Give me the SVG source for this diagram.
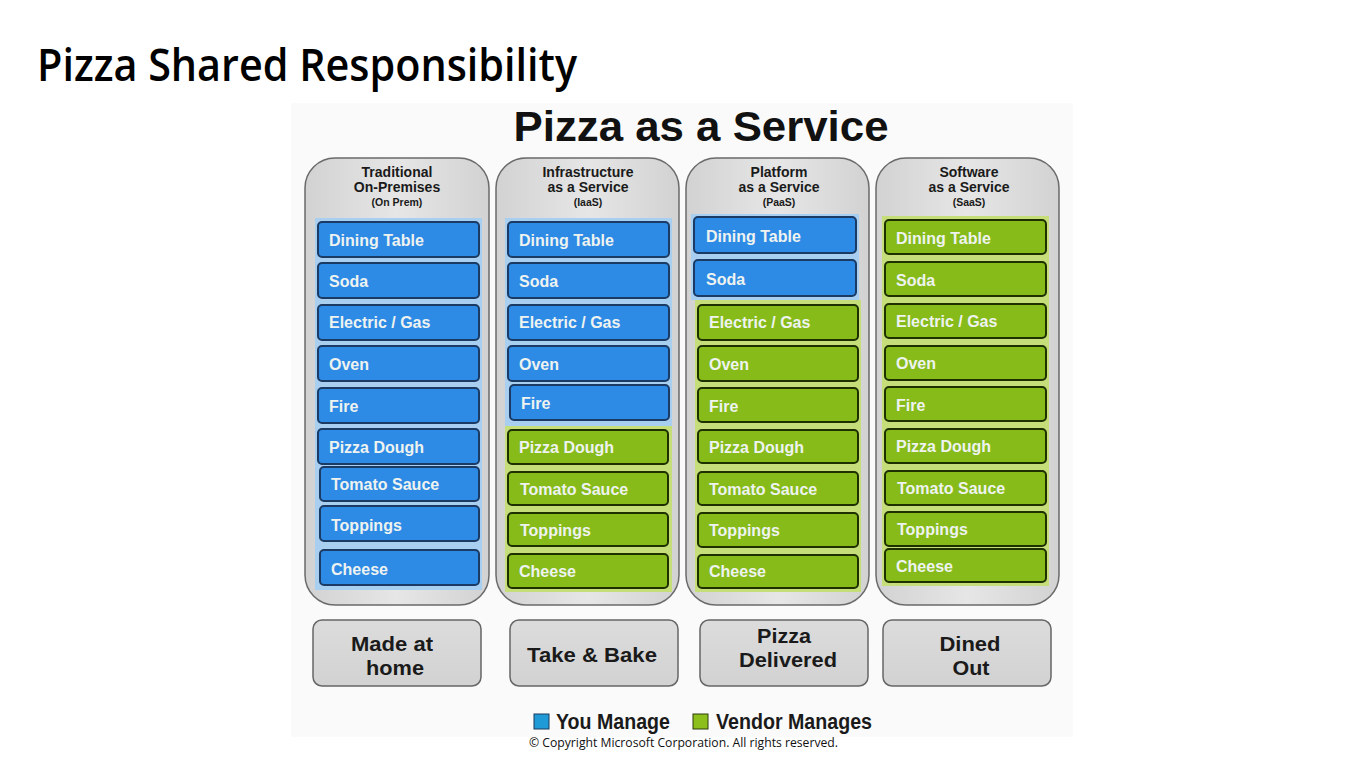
<svg xmlns="http://www.w3.org/2000/svg" width="1366" height="768" viewBox="0 0 1366 768">
<defs>
<linearGradient id="colg" x1="0" y1="0" x2="1" y2="0">
<stop offset="0" stop-color="#d2d2d2"/><stop offset="0.5" stop-color="#e6e6e6"/><stop offset="1" stop-color="#d2d2d2"/>
</linearGradient>
<linearGradient id="btng" x1="0" y1="0" x2="0" y2="1">
<stop offset="0" stop-color="#dcdcdc"/><stop offset="1" stop-color="#d2d2d2"/>
</linearGradient>
<style>
.col{fill:url(#colg);stroke:#6a6a6a;stroke-width:1.5}
.hd{font-family:"Liberation Sans",Arial,sans-serif;font-weight:bold;font-size:14px;fill:#1a1a1a;text-anchor:middle}
.hs{font-family:"Liberation Sans",Arial,sans-serif;font-weight:bold;font-size:10.5px;fill:#1a1a1a;text-anchor:middle}
.bs{fill:#a9cff0}
.gs{fill:#c6de7a}
.b{fill:#2d8ae5;stroke:#1b3b64;stroke-width:2}
.g{fill:#86bb19;stroke:#1f3000;stroke-width:2}
.it{font-family:"Liberation Sans",Arial,sans-serif;font-weight:bold;font-size:16px;fill:#eef3f0}
.btn{fill:url(#btng);stroke:#666;stroke-width:1.5}
.bt{font-family:"Liberation Sans Narrow","Liberation Sans",Arial,sans-serif;font-weight:bold;font-size:21px;fill:#1a1a1a;text-anchor:middle}
.lg{font-family:"Liberation Sans Narrow","Liberation Sans",Arial,sans-serif;font-weight:bold;font-size:22px;fill:#1a1a1a}
</style>
</defs>
<rect x="0" y="0" width="1366" height="768" fill="#ffffff"/>
<text x="37" y="81" font-family="'Open Sans','Noto Sans',sans-serif" font-weight="600" font-size="46" fill="#000" textLength="540" lengthAdjust="spacingAndGlyphs">Pizza Shared Responsibility</text>
<rect x="291" y="103" width="782" height="634" fill="#fafafa"/>
<text x="701" y="141" font-family="'Liberation Sans',Arial,sans-serif" font-weight="bold" font-size="42" fill="#111" text-anchor="middle" textLength="375" lengthAdjust="spacingAndGlyphs">Pizza as a Service</text>

<g id="col-onprem">
<rect class="col" x="305" y="158" width="184" height="447" rx="30"/>
<text class="hd" x="397" y="177">Traditional</text>
<text class="hd" x="397" y="192">On-Premises</text>
<text class="hs" x="397" y="206">(On Prem)</text>
<rect class="bs" x="315" y="218" width="167" height="372"/>
<rect class="b" x="318" y="222" width="161" height="35" rx="4"/><text class="it" x="329" y="246">Dining Table</text>
<rect class="b" x="318" y="263" width="161" height="35" rx="4"/><text class="it" x="329" y="287">Soda</text>
<rect class="b" x="318" y="305" width="161" height="35" rx="4"/><text class="it" x="329" y="328">Electric / Gas</text>
<rect class="b" x="318" y="346" width="161" height="35" rx="4"/><text class="it" x="329" y="370">Oven</text>
<rect class="b" x="318" y="388" width="161" height="35" rx="4"/><text class="it" x="329" y="412">Fire</text>
<rect class="b" x="318" y="429" width="161" height="35" rx="4"/><text class="it" x="329" y="453">Pizza Dough</text>
<rect class="b" x="320" y="467" width="159" height="34" rx="4"/><text class="it" x="331" y="490">Tomato Sauce</text>
<rect class="b" x="320" y="506" width="159" height="35" rx="4"/><text class="it" x="331" y="531">Toppings</text>
<rect class="b" x="320" y="550" width="159" height="35" rx="4"/><text class="it" x="331" y="575">Cheese</text>
</g>

<g id="col-iaas">
<rect class="col" x="496" y="158" width="183" height="447" rx="30"/>
<text class="hd" x="588" y="177">Infrastructure</text>
<text class="hd" x="588" y="192">as a Service</text>
<text class="hs" x="588" y="206">(IaaS)</text>
<rect class="bs" x="505" y="218" width="167" height="208"/>
<rect class="gs" x="505" y="426" width="167" height="166"/>
<rect class="b" x="508" y="222" width="161" height="35" rx="4"/><text class="it" x="519" y="246">Dining Table</text>
<rect class="b" x="508" y="263" width="161" height="35" rx="4"/><text class="it" x="519" y="287">Soda</text>
<rect class="b" x="508" y="305" width="161" height="35" rx="4"/><text class="it" x="519" y="328">Electric / Gas</text>
<rect class="b" x="508" y="346" width="161" height="35" rx="4"/><text class="it" x="519" y="370">Oven</text>
<rect class="b" x="510" y="385" width="159" height="35" rx="4"/><text class="it" x="521" y="409">Fire</text>
<rect class="g" x="508" y="430" width="160" height="34" rx="4"/><text class="it" x="519" y="453">Pizza Dough</text>
<rect class="g" x="508" y="472" width="160" height="33" rx="4"/><text class="it" x="520" y="495">Tomato Sauce</text>
<rect class="g" x="508" y="513" width="160" height="33" rx="4"/><text class="it" x="520" y="536">Toppings</text>
<rect class="g" x="508" y="554" width="160" height="34" rx="4"/><text class="it" x="519" y="577">Cheese</text>
</g>

<g id="col-paas">
<rect class="col" x="686" y="158" width="183" height="447" rx="30"/>
<text class="hd" x="779" y="177">Platform</text>
<text class="hd" x="779" y="192">as a Service</text>
<text class="hs" x="779" y="206">(PaaS)</text>
<rect class="bs" x="691" y="214" width="168" height="86"/>
<rect class="gs" x="695" y="300" width="166" height="292"/>
<rect class="b" x="694" y="217" width="162" height="36" rx="4"/><text class="it" x="706" y="242">Dining Table</text>
<rect class="b" x="694" y="260" width="162" height="36" rx="4"/><text class="it" x="706" y="285">Soda</text>
<rect class="g" x="698" y="305" width="160" height="35" rx="4"/><text class="it" x="709" y="328">Electric / Gas</text>
<rect class="g" x="698" y="346" width="160" height="35" rx="4"/><text class="it" x="709" y="370">Oven</text>
<rect class="g" x="698" y="388" width="160" height="34" rx="4"/><text class="it" x="709" y="412">Fire</text>
<rect class="g" x="698" y="430" width="160" height="33" rx="4"/><text class="it" x="709" y="453">Pizza Dough</text>
<rect class="g" x="698" y="472" width="160" height="33" rx="4"/><text class="it" x="709" y="495">Tomato Sauce</text>
<rect class="g" x="698" y="513" width="160" height="34" rx="4"/><text class="it" x="709" y="536">Toppings</text>
<rect class="g" x="698" y="555" width="160" height="33" rx="4"/><text class="it" x="709" y="577">Cheese</text>
</g>

<g id="col-saas">
<rect class="col" x="876" y="158" width="183" height="447" rx="30"/>
<text class="hd" x="969" y="177">Software</text>
<text class="hd" x="969" y="192">as a Service</text>
<text class="hs" x="969" y="206">(SaaS)</text>
<rect class="gs" x="882" y="216" width="167" height="370"/>
<rect class="g" x="885" y="220" width="161" height="34" rx="4"/><text class="it" x="896" y="244">Dining Table</text>
<rect class="g" x="885" y="262" width="161" height="34" rx="4"/><text class="it" x="896" y="286">Soda</text>
<rect class="g" x="885" y="304" width="161" height="34" rx="4"/><text class="it" x="896" y="327">Electric / Gas</text>
<rect class="g" x="885" y="346" width="161" height="34" rx="4"/><text class="it" x="896" y="369">Oven</text>
<rect class="g" x="885" y="387" width="161" height="34" rx="4"/><text class="it" x="896" y="411">Fire</text>
<rect class="g" x="885" y="429" width="161" height="34" rx="4"/><text class="it" x="896" y="452">Pizza Dough</text>
<rect class="g" x="885" y="471" width="161" height="34" rx="4"/><text class="it" x="897" y="494">Tomato Sauce</text>
<rect class="g" x="885" y="512" width="161" height="34" rx="4"/><text class="it" x="897" y="535">Toppings</text>
<rect class="g" x="885" y="549" width="161" height="33" rx="4"/><text class="it" x="896" y="572">Cheese</text>
</g>

<g id="btn-home">
<rect class="btn" x="313" y="620" width="168" height="66" rx="9"/>
<text class="bt" x="392" y="651" textLength="82" lengthAdjust="spacingAndGlyphs">Made at</text>
<text class="bt" x="395" y="675" textLength="58" lengthAdjust="spacingAndGlyphs">home</text>
</g>
<g id="btn-takebake">
<rect class="btn" x="510" y="620" width="168" height="66" rx="9"/>
<text class="bt" x="592" y="662" textLength="130" lengthAdjust="spacingAndGlyphs">Take &amp; Bake</text>
</g>
<g id="btn-delivered">
<rect class="btn" x="700" y="620" width="168" height="66" rx="9"/>
<text class="bt" x="784" y="643" textLength="54" lengthAdjust="spacingAndGlyphs">Pizza</text>
<text class="bt" x="788" y="667" textLength="98" lengthAdjust="spacingAndGlyphs">Delivered</text>
</g>
<g id="btn-dined">
<rect class="btn" x="883" y="620" width="168" height="66" rx="9"/>
<text class="bt" x="970" y="651" textLength="61" lengthAdjust="spacingAndGlyphs">Dined</text>
<text class="bt" x="971" y="675" textLength="37" lengthAdjust="spacingAndGlyphs">Out</text>
</g>

<g id="legend">
<rect x="534" y="714" width="15" height="15" fill="#1f9ad6" stroke="#1c3b5c" stroke-width="1"/>
<text class="lg" x="556" y="729" textLength="114" lengthAdjust="spacingAndGlyphs">You Manage</text>
<rect x="693" y="714" width="15" height="15" fill="#8cbf1c" stroke="#2c3d0c" stroke-width="1"/>
<text class="lg" x="716" y="729" textLength="156" lengthAdjust="spacingAndGlyphs">Vendor Manages</text>
</g>
<text x="529" y="747" font-family="'Open Sans','Noto Sans',sans-serif" font-size="12.5" fill="#111" textLength="309" lengthAdjust="spacingAndGlyphs">© Copyright Microsoft Corporation. All rights reserved.</text>
</svg>
